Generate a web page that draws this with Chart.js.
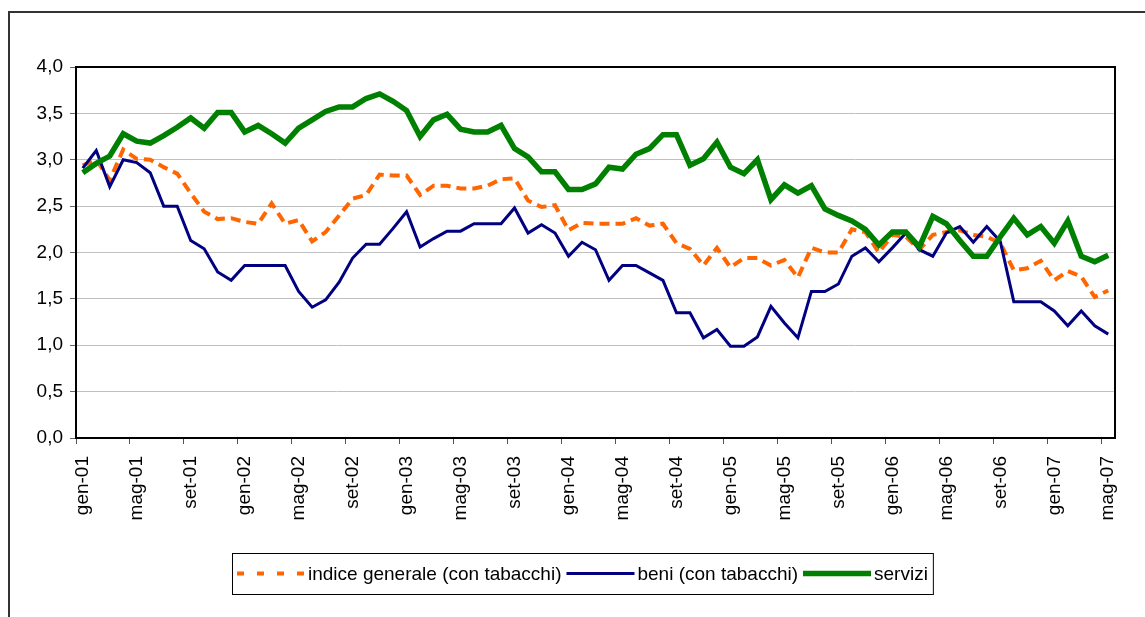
<!DOCTYPE html>
<html><head><meta charset="utf-8">
<script src="https://cdn.jsdelivr.net/npm/chart.js@4/dist/chart.umd.min.js"></script>
<style>html,body{margin:0;padding:0;background:#fff;}canvas{display:block;}</style>
</head><body>
<canvas id="c" width="1145" height="617"></canvas>
<script>
const categories = [
 'gen-01','feb-01','mar-01','apr-01','mag-01','giu-01','lug-01','ago-01','set-01','ott-01','nov-01','dic-01',
 'gen-02','feb-02','mar-02','apr-02','mag-02','giu-02','lug-02','ago-02','set-02','ott-02','nov-02','dic-02',
 'gen-03','feb-03','mar-03','apr-03','mag-03','giu-03','lug-03','ago-03','set-03','ott-03','nov-03','dic-03',
 'gen-04','feb-04','mar-04','apr-04','mag-04','giu-04','lug-04','ago-04','set-04','ott-04','nov-04','dic-04',
 'gen-05','feb-05','mar-05','apr-05','mag-05','giu-05','lug-05','ago-05','set-05','ott-05','nov-05','dic-05',
 'gen-06','feb-06','mar-06','apr-06','mag-06','giu-06','lug-06','ago-06','set-06','ott-06','nov-06','dic-06',
 'gen-07','feb-07','mar-07','apr-07','mag-07'
];
const indiceGenerale = [
 2.94,3.00,2.78,3.11,3.01,3.00,2.92,2.85,2.64,2.44,2.36,2.37,
 2.33,2.31,2.53,2.31,2.35,2.12,2.22,2.40,2.58,2.62,2.84,2.83,
 2.83,2.62,2.72,2.72,2.69,2.69,2.72,2.79,2.80,2.56,2.49,2.51,
 2.24,2.32,2.31,2.31,2.31,2.37,2.29,2.31,2.10,2.04,1.86,2.05,
 1.84,1.94,1.94,1.86,1.92,1.73,2.05,2.00,2.00,2.25,2.22,2.00,
 2.19,2.17,2.03,2.19,2.22,2.24,2.19,2.17,2.10,1.81,1.83,1.91,
 1.70,1.80,1.74,1.52,1.59
];
const beni = [
 2.91,3.10,2.71,3.00,2.97,2.86,2.50,2.50,2.13,2.04,1.79,1.70,
 1.86,1.86,1.86,1.86,1.58,1.41,1.49,1.68,1.94,2.09,2.09,2.26,
 2.44,2.06,2.15,2.23,2.23,2.31,2.31,2.31,2.48,2.21,2.30,2.21,
 1.96,2.11,2.03,1.70,1.86,1.86,1.78,1.70,1.35,1.35,1.08,1.17,
 0.99,0.99,1.09,1.42,1.24,1.08,1.58,1.58,1.66,1.96,2.05,1.90,
 2.05,2.21,2.03,1.96,2.21,2.28,2.11,2.28,2.12,1.47,1.47,1.47,
 1.37,1.21,1.37,1.21,1.12
];
const servizi = [
 2.86,2.96,3.04,3.28,3.20,3.18,3.26,3.35,3.45,3.34,3.51,3.51,
 3.30,3.37,3.28,3.18,3.34,3.43,3.52,3.57,3.57,3.66,3.71,3.63,
 3.53,3.25,3.43,3.49,3.33,3.30,3.30,3.37,3.12,3.03,2.87,2.87,
 2.68,2.68,2.74,2.92,2.90,3.06,3.12,3.27,3.27,2.94,3.01,3.19,
 2.92,2.85,3.00,2.57,2.73,2.64,2.72,2.47,2.40,2.34,2.25,2.08,
 2.22,2.22,2.06,2.39,2.31,2.13,1.96,1.96,2.17,2.37,2.19,2.28,
 2.10,2.34,1.96,1.90,1.97
];
const seriesNames = ['indice generale (con tabacchi)','beni (con tabacchi)','servizi'];
const yTickValues = [0,0.5,1,1.5,2,2.5,3,3.5,4];

const FONT = 'Liberation Sans, Arial, sans-serif';

const framePlugin = {
  id: 'frame',
  beforeDraw(chart) {
    const ctx = chart.ctx;
    ctx.save();
    ctx.fillStyle = '#fff';
    ctx.fillRect(0, 0, chart.width, chart.height);
    ctx.strokeStyle = '#333';
    ctx.lineWidth = 2;
    ctx.strokeRect(9, 12, chart.width + 20, chart.height + 20);
    ctx.restore();
  },
  afterDraw(chart) {
    const ctx = chart.ctx, a = chart.chartArea;
    ctx.save();
    ctx.strokeStyle = '#000';
    ctx.lineWidth = 2;
    ctx.strokeRect(a.left, a.top, a.right - a.left, a.bottom - a.top);
    ctx.restore();
  }
};

const legendPlugin = {
  id: 'boxLegend',
  afterDraw(chart) {
    const ctx = chart.ctx;
    const left = 232, top = 553, h = 41;
    const cy = top + h / 2;
    ctx.save();
    ctx.font = '19px ' + FONT;
    ctx.textBaseline = 'middle';
    let x = left + 5;
    chart.data.datasets.forEach((ds, i) => {
      ctx.save();
      ctx.strokeStyle = ds.borderColor;
      ctx.lineWidth = ds.borderWidth;
      ctx.setLineDash(i === 0 ? [7, 13] : []);
      ctx.beginPath();
      ctx.moveTo(x, cy);
      ctx.lineTo(x + 68, cy);
      ctx.stroke();
      ctx.restore();
      x += 71;
      ctx.fillStyle = '#000';
      ctx.fillText(ds.label, x, cy + 1);
      x += ctx.measureText(ds.label).width + 5;
    });
    ctx.strokeStyle = '#000';
    ctx.lineWidth = 1;
    ctx.strokeRect(left + 0.5, top + 0.5, x - left, h);
    ctx.restore();
  }
};

new Chart(document.getElementById('c').getContext('2d'), {
  type: 'line',
  data: {
    labels: categories,
    datasets: [
      { label: seriesNames[0], data: indiceGenerale, borderColor: '#ff6600', backgroundColor: '#ff6600', borderWidth: 4, borderDash: [10, 6], order: 3 },
      { label: seriesNames[1], data: beni, borderColor: '#000080', backgroundColor: '#000080', borderWidth: 3, order: 2 },
      { label: seriesNames[2], data: servizi, borderColor: '#008000', backgroundColor: '#008000', borderWidth: 5.5, order: 1 }
    ]
  },
  options: {
    responsive: false,
    animation: false,
    devicePixelRatio: 1,
    layout: { padding: { top: 67, right: 30, left: 0, bottom: 0 } },
    plugins: { legend: { display: false }, tooltip: { enabled: false } },
    elements: { point: { radius: 0 }, line: { tension: 0, fill: false } },
    scales: {
      x: {
        type: 'category',
        offset: true,
        grid: {
          offset: true, drawOnChartArea: false, drawTicks: true, tickLength: 6, lineWidth: 1,
          color: c => (c.index !== undefined && c.index % 4 === 0) ? '#555' : 'rgba(0,0,0,0)'
        },
        border: { display: true, color: '#000', width: 2 },
        ticks: {
          autoSkip: false, maxRotation: 90, minRotation: 90, padding: 12, color: '#000',
          font: { family: FONT, size: 19 },
          callback: (v, i) => (i % 4 === 0 ? categories[i] : '')
        },
        afterFit: s => { s.height = 179; }
      },
      y: {
        min: 0, max: 4,
        afterBuildTicks: s => { s.ticks = yTickValues.map(v => ({ value: v })); },
        ticks: {
          padding: 7, color: '#000', font: { family: FONT, size: 19 },
          callback: v => Number(v).toFixed(1).replace('.', ',')
        },
        grid: { color: '#c0c0c0', lineWidth: 1, tickLength: 6, tickColor: '#666' },
        border: { display: true, color: '#000', width: 2 },
        afterFit: s => { s.width = 76; }
      }
    }
  },
  plugins: [framePlugin, legendPlugin]
});
</script>
</body></html>
